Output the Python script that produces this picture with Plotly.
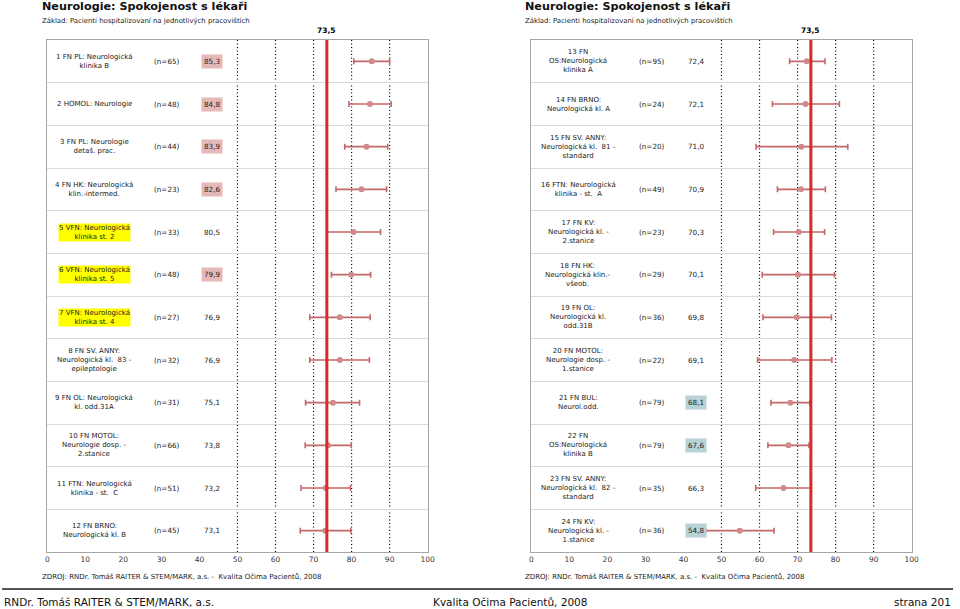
import plotly.graph_objects as go

# ---------------- data ----------------
labels_left = [
    "1 FN PL: Neurologická<br>klinika B",
    "2 HOMOL: Neurologie",
    "3 FN PL: Neurologie<br>detaš. prac.",
    "4 FN HK: Neurologická<br>klin.-intermed.",
    "5 VFN: Neurologická<br>klinika st. 2",
    "6 VFN: Neurologická<br>klinika st. 5",
    "7 VFN: Neurologická<br>klinika st. 4",
    "8 FN SV. ANNY:<br>Neurologická kl.  83 -<br>epileptologie",
    "9 FN OL: Neurologická<br>kl. odd.31A",
    "10 FN MOTOL:<br>Neurologie dosp. -<br>2.stanice",
    "11 FTN: Neurologická<br>klinika - st.  C",
    "12 FN BRNO:<br>Neurologická kl. B",
]
n_left = [65, 48, 44, 23, 33, 48, 27, 32, 31, 66, 51, 45]
values_left = [85.3, 84.8, 83.9, 82.6, 80.5, 79.9, 76.9, 76.9, 75.1, 73.8, 73.2, 73.1]
low_left = [80.6, 79.3, 78.2, 75.9, 73.5, 74.7, 69.0, 69.0, 67.9, 67.8, 66.7, 66.5]
high_left = [90.0, 90.4, 89.5, 89.2, 87.6, 85.0, 84.9, 84.7, 82.1, 79.9, 79.7, 79.8]
value_mark_left = ["hi", "hi", "hi", "hi", "", "hi", "", "", "", "", "", ""]
label_mark_left = [False, False, False, False, True, True, True, False, False, False, False, False]

labels_right = [
    "13 FN<br>OS:Neurologická<br>klinika A",
    "14 FN BRNO:<br>Neurologická kl. A",
    "15 FN SV. ANNY:<br>Neurologická kl.  81 -<br>standard",
    "16 FTN: Neurologická<br>klinika - st.  A",
    "17 FN KV:<br>Neurologická kl. -<br>2.stanice",
    "18 FN HK:<br>Neurologická klin.-<br>všeob.",
    "19 FN OL:<br>Neurologická kl.<br>odd.31B",
    "20 FN MOTOL:<br>Neurologie dosp. -<br>1.stanice",
    "21 FN BUL:<br>Neurol.odd.",
    "22 FN<br>OS:Neurologická<br>klinika B",
    "23 FN SV. ANNY:<br>Neurologická kl.  82 -<br>standard",
    "24 FN KV:<br>Neurologická kl. -<br>1.stanice",
]
n_right = [95, 24, 20, 49, 23, 29, 36, 22, 79, 79, 35, 36]
values_right = [72.4, 72.1, 71.0, 70.9, 70.3, 70.1, 69.8, 69.1, 68.1, 67.6, 66.3, 54.8]
low_right = [67.9, 63.4, 59.1, 64.7, 63.7, 60.7, 60.9, 59.5, 63.0, 62.2, 59.0, 45.9]
high_right = [77.2, 81.0, 83.2, 77.3, 77.1, 79.7, 78.9, 79.0, 73.2, 73.0, 73.6, 63.8]
value_mark_right = ["", "", "", "", "", "", "", "", "lo", "lo", "", "lo"]
label_mark_right = [False] * 12

mean_value = 73.5
mean_label = "73,5"
ref_lines = [50, 60, 70, 80, 90]
x_ticks = [0, 10, 20, 30, 40, 50, 60, 70, 80, 90, 100]

title = "Neurologie: Spokojenost s lékaři"
subtitle = "Základ: Pacienti hospitalizovaní na jednotlivých pracovištích"
source = "ZDROJ: RNDr. Tomáš RAITER & STEM/MARK, a.s. -  Kvalita Očima Pacientů, 2008"
footer_left = "RNDr. Tomáš RAITER & STEM/MARK, a.s."
footer_mid = "Kvalita Očima Pacientů, 2008"
footer_right = "strana 201"

# column positions (in axis units)
COL_LABEL, COL_N, COL_VAL = 12.3, 31.6, 43.3

# ---------------- styling ----------------
W, H = 960, 609
FONT = "DejaVu Sans"
ERR_COLOR = "#c4676a"
MARK_COLOR = "#d08a8a"
MEAN_COLOR = "#d42b2b"
HI_BG = "#e6b9b8"
LO_BG = "#b7d3d8"
YEL_BG = "#ffff00"

def px_x(p):
    return p / W

def px_y(p):
    return 1 - p / H

plot_top, plot_bot = 40, 552
panels = [
    dict(xa="x", ya="y", x0=45.7, labels=labels_left, n=n_left, v=values_left,
         lo=low_left, hi=high_left, vm=value_mark_left, lm=label_mark_left, tx=38),
    dict(xa="x2", ya="y2", x0=534.3, labels=labels_right, n=n_right, v=values_right,
         lo=low_right, hi=high_right, vm=value_mark_right, lm=label_mark_right, tx=526),
]

fig = go.Figure()
annotations = []
shapes = []
layout_axes = {}

for i, p in enumerate(panels):
    rows = list(range(len(p["v"])))
    fig.add_trace(go.Scatter(
        x=p["v"], y=rows, xaxis=p["xa"], yaxis=p["ya"], mode="markers",
        marker=dict(color=MARK_COLOR, size=6),
        error_x=dict(type="data", symmetric=False,
                     array=[h - v for h, v in zip(p["hi"], p["v"])],
                     arrayminus=[v - l for v, l in zip(p["v"], p["lo"])],
                     color=ERR_COLOR, thickness=1.6, width=3),
        showlegend=False, hoverinfo="skip", cliponaxis=False,
    ))
    suffix = "" if i == 0 else "2"
    dom_x = [px_x(p["x0"]), px_x(p["x0"] + 384)]
    layout_axes["xaxis" + suffix] = dict(
        domain=dom_x, range=[0, 100], tickvals=x_ticks,
        ticktext=[str(t) for t in x_ticks], showgrid=False, zeroline=False,
        showline=True, mirror=True, linecolor="#a6a6a6", linewidth=1,
        tickfont=dict(family=FONT, size=7.5, color="#333333"), ticks="",
        anchor="y" + suffix, fixedrange=True,
    )
    layout_axes["yaxis" + suffix] = dict(
        domain=[px_y(plot_bot), px_y(plot_top)], range=[11.5, -0.5],
        tickvals=[r + 0.5 for r in rows[:-1]], showticklabels=False,
        showgrid=True, gridcolor="#d9d9d9", gridwidth=1.2, zeroline=False,
        showline=True, mirror=True, linecolor="#a6a6a6", linewidth=1,
        anchor="x" + suffix, fixedrange=True,
    )
    xa, ya = p["xa"], p["ya"]
    for rv in ref_lines:
        shapes.append(dict(type="line", xref=xa, yref=ya + " domain", x0=rv, x1=rv,
                           y0=0, y1=1, line=dict(color="#000000", width=1.2, dash="1px,2.5px"),
                           layer="below"))
    shapes.append(dict(type="line", xref=xa, yref=ya + " domain", x0=mean_value,
                       x1=mean_value, y0=0, y1=1,
                       line=dict(color=MEAN_COLOR, width=3), layer="above"))
    annotations.append(dict(xref=xa, yref="paper", x=mean_value, y=px_y(30),
                            text="<b>" + mean_label + "</b>", showarrow=False,
                            font=dict(family=FONT, size=7.5, color="#000"),
                            xanchor="center", yanchor="middle"))
    for r in rows:
        annotations.append(dict(xref=xa, yref=ya, x=COL_LABEL, y=r, text=p["labels"][r],
                                showarrow=False, align="center",
                                font=dict(family=FONT, size=7, color="#222"),
                                bgcolor=YEL_BG if p["lm"][r] else "rgba(0,0,0,0)",
                                borderpad=0))
        annotations.append(dict(xref=xa, yref=ya, x=COL_N, y=r, text="(n=%d)" % p["n"][r],
                                showarrow=False,
                                font=dict(family=FONT, size=7.2, color="#222")))
        bg = {"hi": HI_BG, "lo": LO_BG}.get(p["vm"][r], "rgba(0,0,0,0)")
        annotations.append(dict(xref=xa, yref=ya, x=COL_VAL, y=r,
                                text=("%.1f" % p["v"][r]).replace(".", ","),
                                showarrow=False, bgcolor=bg, borderpad=2,
                                font=dict(family=FONT, size=7.2, color="#222")))
    # titles
    annotations.append(dict(xref="paper", yref="paper", x=px_x(p["tx"]), y=px_y(7),
                            text="<b>" + title + "</b>", showarrow=False,
                            xanchor="left", yanchor="middle",
                            font=dict(family=FONT, size=11.2, color="#111")))
    annotations.append(dict(xref="paper", yref="paper", x=px_x(p["tx"]), y=px_y(20.5),
                            text=subtitle, showarrow=False, xanchor="left", yanchor="middle",
                            font=dict(family=FONT, size=6.9, color="#222")))
    annotations.append(dict(xref="paper", yref="paper", x=px_x(p["tx"]), y=px_y(577),
                            text=source, showarrow=False, xanchor="left", yanchor="middle",
                            font=dict(family=FONT, size=7.0, color="#222")))

# footer
shapes.append(dict(type="line", xref="paper", yref="paper", x0=0, x1=1,
                   y0=px_y(589), y1=px_y(589), line=dict(color="#555555", width=2)))
annotations.append(dict(xref="paper", yref="paper", x=0, y=px_y(601.5), text=footer_left,
                        showarrow=False, xanchor="left", yanchor="middle",
                        font=dict(family=FONT, size=10.5, color="#111")))
annotations.append(dict(xref="paper", yref="paper", x=px_x(513), y=px_y(601.5), text=footer_mid,
                        showarrow=False, xanchor="center", yanchor="middle",
                        font=dict(family=FONT, size=10.5, color="#111")))
annotations.append(dict(xref="paper", yref="paper", x=1, y=px_y(601.5), text=footer_right,
                        showarrow=False, xanchor="right", yanchor="middle",
                        font=dict(family=FONT, size=10.5, color="#111")))

fig.update_layout(
    width=W, height=H, autosize=False,
    margin=dict(l=0, r=0, t=0, b=0),
    paper_bgcolor="white", plot_bgcolor="white",
    annotations=annotations, shapes=shapes,
    font=dict(family=FONT),
    **layout_axes,
)

fig.write_html("out.html", config={"displayModeBar": False},
               post_script="document.body.style.margin='0';document.body.style.overflow='hidden';")
